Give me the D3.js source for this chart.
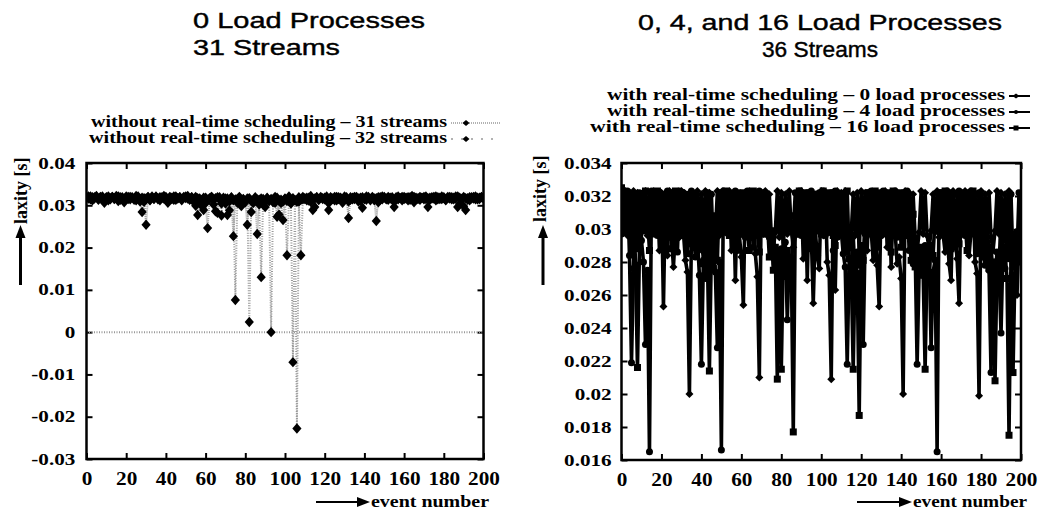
<!DOCTYPE html>
<html>
<head>
<meta charset="utf-8">
<script src="https://cdn.jsdelivr.net/npm/d3@7"></script>
<style>
  body { margin: 0; background: #fff; }
</style>
</head>
<body>
<svg id="chart"></svg>
<script>
// event numbers on the x axis
const events = d3.range(0, 201)

// laxity in ms, left panel (0 load processes)
const lax31 = [
  32.0,31.6,32.1,31.2,31.9,32.2,31.5,32.0,31.7,30.6,
  31.8,32.1,31.4,32.0,31.6,32.2,31.0,31.9,31.7,30.7,
  32.1,31.5,32.0,31.8,31.3,32.2,31.6,30.9,28.4,31.7,
  25.4,31.9,31.2,32.1,31.6,32.0,31.4,31.9,31.7,32.2,
  31.5,30.6,32.0,31.8,31.3,32.1,31.6,31.9,31.2,32.0,
  31.7,32.2,31.4,31.9,30.8,32.0,27.7,31.6,29.9,31.8,
  30.5,24.6,31.5,32.0,30.2,31.7,28.2,31.9,30.4,31.3,
  31.6,27.7,30.9,31.8,22.7,31.4,30.6,32.0,30.9,31.5,
  31.0,25.4,31.7,28.4,30.8,31.9,23.2,31.3,31.6,30.2,
  29.6,31.8,31.1,31.5,30.7,32.0,27.3,31.2,30.5,26.5,
  31.6,31.0,32.1,30.4,31.7,31.2,30.8,31.9,31.3,32.0,
  31.5,31.8,31.1,32.2,28.9,31.6,31.9,31.3,32.0,31.7,
  31.4,32.1,28.9,31.8,31.5,32.0,31.2,31.9,31.6,30.6,
  32.1,31.7,27.0,31.9,31.4,32.0,31.6,30.9,31.8,29.4,
  31.5,32.1,31.7,31.2,32.0,31.6,26.3,31.9,31.3,32.1,
  31.8,31.4,32.0,31.6,31.9,29.6,31.5,32.1,31.7,31.2,
  32.0,31.6,31.9,31.3,32.2,30.7,31.8,31.5,32.0,31.7,
  31.4,32.1,29.6,31.8,31.6,32.0,31.2,31.9,31.5,32.1,
  31.7,31.3,32.0,31.6,31.9,31.4,32.1,29.6,31.8,31.5,
  32.0,28.9,31.7,31.2,31.9,31.6,32.1,31.4,31.8,32.0,
  31.7
]
const lax32 = [
  31.8,32.1,31.4,31.9,31.6,32.0,31.3,31.8,32.1,31.5,
  31.9,31.2,31.7,32.0,31.5,31.8,32.1,31.3,31.9,31.6,
  31.7,32.0,31.4,31.9,31.6,31.2,32.1,31.5,31.8,30.8,
  31.6,32.0,31.3,31.8,31.5,32.1,31.7,31.2,31.9,31.6,
  32.0,31.4,31.8,31.5,32.1,31.3,31.7,31.9,31.4,31.8,
  32.1,31.6,31.3,31.9,31.5,29.9,31.7,30.6,31.2,28.9,
  31.8,31.3,31.7,32.0,31.5,28.6,31.9,31.4,27.6,31.8,
  30.4,31.6,28.8,31.9,31.2,7.6,31.5,31.8,29.8,31.4,
  30.7,31.6,2.4,31.1,30.5,31.7,31.4,30.2,13.0,31.5,
  30.8,31.6,31.0,0.0,31.4,30.6,31.8,27.8,31.3,30.9,
  31.5,18.2,31.0,30.6,-7.1,31.2,-22.8,30.9,18.2,31.4,
  31.7,31.2,31.8,30.8,31.5,29.6,31.9,31.3,31.7,31.5,
  31.8,31.3,30.5,31.9,31.6,31.2,32.0,31.5,31.8,31.4,
  31.7,31.9,30.9,31.3,31.8,31.5,32.0,31.6,31.2,31.9,
  31.6,31.3,32.0,31.5,31.8,31.2,31.7,30.7,31.9,31.4,
  32.0,31.6,31.3,31.8,31.5,30.8,31.9,31.4,31.7,32.0,
  31.5,31.8,31.2,31.9,31.6,32.0,31.4,31.7,31.3,31.8,
  32.0,31.5,31.7,31.3,31.9,31.6,32.1,31.4,31.8,31.5,
  31.9,31.2,31.7,32.0,31.4,31.8,31.6,32.1,30.3,31.5,
  29.8,31.7,31.3,31.9,31.6,32.0,31.4,31.8,31.5,31.9,
  31.6
]

// laxity in ms, right panel (36 streams)
const laxLoad0 = [
  32.2,29.8,32.3,29.6,32.1,29.9,32.3,29.7,32.2,29.5,
  32.1,29.9,32.3,29.6,32.2,29.8,32.3,29.7,32.0,28.7,
  32.2,25.3,32.1,28.4,32.3,29.6,27.7,29.9,32.2,29.5,
  32.3,29.8,28.1,27.4,20.0,29.6,32.2,29.9,32.3,29.7,
  32.1,28.6,32.3,29.5,32.2,29.8,28.9,29.7,32.3,29.6,
  32.2,29.9,32.1,29.7,32.3,28.7,32.2,26.9,32.0,29.6,
  28.3,25.4,32.2,29.8,32.3,29.5,32.1,28.5,27.1,21.0,
  32.2,29.7,32.3,29.9,32.1,29.6,28.8,29.8,32.3,29.5,
  32.2,28.6,32.1,29.7,32.3,29.9,28.9,29.6,32.2,29.8,
  32.3,28.2,32.1,26.9,32.2,29.7,25.5,29.9,28.4,27.6,
  32.3,29.6,32.2,28.0,27.2,20.9,32.1,26.3,32.3,29.8,
  32.2,29.5,32.3,29.9,28.8,29.7,32.1,29.6,32.2,28.5,
  32.3,29.8,32.2,28.7,32.1,29.9,28.1,29.6,27.8,25.3,
  32.2,29.7,32.3,28.9,32.1,27.7,32.2,29.8,27.9,28.3,
  27.0,20.0,32.3,29.6,32.2,29.9,32.1,29.5,28.7,29.8,
  32.3,29.7,32.2,29.6,28.8,29.9,32.1,29.8,32.3,29.5,
  32.2,29.7,28.6,29.9,27.9,26.9,32.3,29.6,28.2,25.5,
  32.1,29.8,32.3,29.7,28.4,29.9,32.2,28.0,27.3,19.9,
  32.3,29.6,32.1,29.8,32.2,29.5,28.7,29.9,32.3,29.7,
  32.2,28.9,32.1,29.6,32.3,29.8,28.3,29.7,26.0,29.6,
  32.2
]
const laxLoad4 = [
  29.7,32.2,29.9,32.3,28.4,21.9,27.6,32.1,28.8,32.2,
  29.3,28.0,23.0,27.5,16.5,32.3,29.8,32.1,29.6,32.2,
  29.9,28.9,29.7,32.3,29.5,32.1,29.8,32.2,28.6,32.3,
  29.6,32.2,29.9,32.1,29.1,32.3,29.7,28.3,29.5,27.2,
  21.8,28.1,27.0,32.2,27.8,32.1,28.5,27.4,22.8,28.0,
  16.6,32.3,29.8,32.2,29.6,32.1,29.9,32.3,28.7,32.2,
  29.7,32.1,29.5,32.3,29.8,32.2,28.9,32.1,29.6,32.3,
  29.9,32.2,29.7,32.1,29.5,28.4,29.8,27.9,28.6,27.3,
  28.8,27.1,29.2,24.5,28.3,27.6,29.9,32.2,29.7,32.3,
  29.6,32.1,29.8,32.2,28.8,32.3,29.5,32.1,29.9,32.2,
  29.7,32.3,29.6,32.1,29.8,32.2,28.7,32.3,29.5,32.1,
  29.9,28.5,27.7,21.8,28.2,27.4,29.6,27.0,28.6,27.8,
  28.4,23.0,29.7,32.2,29.8,32.3,29.5,32.1,29.9,32.2,
  29.6,32.3,29.7,32.1,28.9,32.2,29.8,32.3,29.5,32.1,
  29.9,32.2,29.6,32.3,28.7,29.8,27.9,28.8,21.8,27.5,
  28.3,27.2,29.0,27.7,28.6,22.8,27.4,28.1,16.5,32.2,
  29.8,32.1,29.6,32.3,29.9,32.2,29.7,28.9,29.5,32.3,
  29.8,32.1,29.6,32.2,29.9,32.3,29.7,32.1,28.5,32.2,
  29.6,28.7,27.8,29.2,27.5,21.3,28.0,27.1,28.6,27.4,
  23.7,28.9,27.6,29.4,28.2,32.1,27.9,29.6,28.4,32.2,
  29.8
]
const laxLoad16 = [
  32.5,30.8,29.8,32.2,30.9,28.5,32.1,27.8,21.6,28.9,
  30.7,29.9,32.3,30.8,28.7,32.2,30.6,29.7,32.3,30.9,
  29.8,32.1,30.7,29.9,32.2,28.8,29.7,32.3,30.8,29.6,
  32.2,30.9,29.8,28.5,30.7,29.9,32.1,30.8,29.7,28.8,
  30.6,27.9,29.8,28.4,21.4,28.9,27.6,30.8,28.1,32.2,
  30.7,29.9,32.3,30.8,29.6,32.1,30.9,29.8,28.8,30.6,
  29.7,32.2,30.8,29.9,28.7,30.7,32.3,30.9,29.8,28.6,
  30.8,29.7,32.1,30.6,28.3,29.9,27.5,28.9,20.9,28.1,
  21.5,28.5,27.4,28.7,27.0,28.2,17.7,30.8,29.7,32.3,
  30.9,29.8,32.2,30.7,29.6,28.9,30.8,29.9,32.1,30.6,
  29.7,32.3,30.8,29.8,32.2,30.9,29.6,29.0,30.7,29.9,
  32.1,30.8,28.6,32.3,28.2,27.6,21.5,28.4,27.3,18.7,
  29.0,28.1,30.8,29.7,32.2,30.9,29.8,32.3,28.9,29.6,
  32.1,30.7,29.9,32.2,30.8,28.6,32.3,30.6,29.7,32.2,
  28.9,29.8,32.1,30.7,29.6,28.1,30.9,27.7,28.6,27.2,
  28.9,27.5,21.5,28.3,27.1,29.0,28.4,30.8,29.9,32.2,
  30.7,29.8,32.3,30.9,29.6,28.8,30.8,29.7,32.1,29.1,
  29.9,32.2,30.6,28.7,30.8,29.8,32.3,30.7,29.3,32.1,
  28.6,29.9,28.3,30.8,27.6,28.9,27.2,20.8,28.0,27.5,
  30.9,27.8,28.5,27.0,17.5,28.4,21.3,27.7,29.8,28.0,
  30.8
]

const xTicks = [0, 20, 40, 60, 80, 100, 120, 140, 160, 180, 200]
const yTicksLeft = [-0.03, -0.02, -0.01, 0, 0.01, 0.02, 0.03, 0.04]
const yLabelsLeft = ['-0.03', '-0.02', '-0.01', '0', '0.01', '0.02', '0.03', '0.04']
const yTicksRight = [0.016, 0.018, 0.02, 0.022, 0.024, 0.026, 0.028, 0.03, 0.032, 0.034]
const yLabelsRight = ['0.016', '0.018', '0.02', '0.022', '0.024', '0.026', '0.028', '0.03', '0.032', '0.034']

const titlesLeft = ['0 Load Processes', '31 Streams']
const titlesRight = ['0, 4, and 16 Load Processes', '36 Streams']
const legendLeft = ['without real-time scheduling \u2013 31 streams', 'without real-time scheduling \u2013 32 streams']
const legendRight = ['with real-time scheduling \u2013 0 load processes', 'with real-time scheduling \u2013 4 load processes', 'with real-time scheduling \u2013 16 load processes']

const SERIF = "'Liberation Serif', 'Times New Roman', serif"
const SANS = "'Liberation Sans', Arial, sans-serif"

const svg = d3.select('#chart').attr('width', 1039).attr('height', 514)

const diamond = (rx, ry) => `M0,${-ry}L${rx},0L0,${ry}L${-rx},0Z`
const circle = r => `M${-r},0A${r},${r} 0 1,0 ${r},0A${r},${r} 0 1,0 ${-r},0Z`
const square = s => `M${-s},${-s}H${s}V${s}H${-s}Z`

const drawPanel = (p) => {
    const x = d3.scaleLinear().domain([0, 200]).range([p.x0, p.x1])
    const y = d3.scaleLinear().domain(p.yDomain).range([p.y1, p.y0])
    const g = svg.append('g')

    const styleAxis = (a) => {
        a.select('.domain').remove()
        a.selectAll('.tick line').attr('stroke', '#000').attr('stroke-width', 2)
        a.selectAll('text')
            .attr('font-family', SERIF)
            .attr('font-weight', 'bold')
            .attr('fill', '#000')
    }

    g.append('g').attr('transform', `translate(0,${p.y1})`)
        .call(d3.axisBottom(x).tickValues(xTicks).tickSize(-6).tickPadding(p.xPad))
        .call(styleAxis)
        .call(a => a.selectAll('text').attr('font-size', 18).attr('transform', 'scale(1.18,1)'))
    g.append('g').attr('transform', `translate(0,${p.y0})`)
        .call(d3.axisTop(x).tickValues(xTicks).tickSize(-6).tickFormat(''))
        .call(styleAxis)
    g.append('g').attr('transform', `translate(${p.x0},0)`)
        .call(d3.axisLeft(y).tickValues(p.yTicks).tickSize(-6).tickPadding(p.yPad)
            .tickFormat((d, i) => p.yLabels[i]))
        .call(styleAxis)
        .call(a => a.selectAll('text').attr('font-size', 16).attr('transform', 'scale(1.32,1)'))
    g.append('g').attr('transform', `translate(${p.x1},0)`)
        .call(d3.axisRight(y).tickValues(p.yTicks).tickSize(-6).tickFormat(''))
        .call(styleAxis)

    const clipId = `clip${p.id}`
    g.append('clipPath').attr('id', clipId).append('rect')
        .attr('x', p.x0).attr('y', p.y0).attr('width', p.x1 - p.x0).attr('height', p.y1 - p.y0)
    const plot = g.append('g').attr('clip-path', `url(#${clipId})`)

    if (p.zeroLine) {
        plot.append('line')
            .attr('x1', x(0)).attr('x2', x(200)).attr('y1', y(0)).attr('y2', y(0))
            .attr('stroke', '#999').attr('stroke-width', 2).attr('stroke-dasharray', '1,1.5')
    }

    const line = d3.line().x((d, i) => x(events[i])).y(d => y(d / 1000))
    p.series.forEach(s => {
        plot.append('path').datum(s.values)
            .attr('d', line)
            .attr('fill', 'none')
            .attr('stroke', s.color)
            .attr('stroke-width', s.width)
            .attr('stroke-linejoin', 'round')
            .attr('stroke-dasharray', s.dash)
    })
    p.series.forEach(s => {
        plot.selectAll(null).data(s.values).enter()
            .append('path')
            .attr('transform', (d, i) => `translate(${x(events[i])},${y(d / 1000)})`)
            .attr('d', s.shape)
            .attr('fill', '#000')
    })

    g.append('rect')
        .attr('x', p.x0).attr('y', p.y0).attr('width', p.x1 - p.x0).attr('height', p.y1 - p.y0)
        .attr('fill', 'none').attr('stroke', '#000').attr('stroke-width', 2.5)

    // titles
    p.titles.forEach((t, i) => {
        svg.append('text')
            .attr('x', p.titleX).attr('y', p.titleY[i])
            .attr('text-anchor', p.titleAnchor)
            .attr('font-family', SANS).attr('font-size', 22)
            .attr('stroke', '#000').attr('stroke-width', 0.4)
            .attr('textLength', p.titleLen[i]).attr('lengthAdjust', 'spacingAndGlyphs')
            .text(t)
    })

    // legend
    p.legend.forEach((t, i) => {
        const ly = p.legendY[i]
        svg.append('text')
            .attr('x', p.legendX).attr('y', ly)
            .attr('text-anchor', 'end')
            .attr('font-family', SERIF).attr('font-size', 16).attr('font-weight', 'bold')
            .attr('textLength', p.legendLen[i]).attr('lengthAdjust', 'spacingAndGlyphs')
            .text(t)
        const s = p.series[i]
        svg.append('line')
            .attr('x1', p.sampleX[0]).attr('x2', p.sampleX[1]).attr('y1', ly - 4).attr('y2', ly - 4)
            .attr('stroke', s.color).attr('stroke-width', s.legendWidth || s.width).attr('stroke-dasharray', s.legendDash || s.dash)
        svg.append('path')
            .attr('transform', `translate(${p.sampleX[2]},${ly - 4})`)
            .attr('d', s.legendShape).attr('fill', '#000')
    })

    // y label with arrow
    svg.append('text')
        .attr('transform', `translate(${p.yLabelX},${p.yLabelBottom}) rotate(-90)`)
        .attr('font-family', SERIF).attr('font-size', 18).attr('font-weight', 'bold')
        .text('laxity [s]')
    svg.append('line')
        .attr('x1', p.yArrowX).attr('x2', p.yArrowX).attr('y1', 285).attr('y2', 236)
        .attr('stroke', '#000').attr('stroke-width', 3)
    svg.append('path')
        .attr('d', `M${p.yArrowX},225L${p.yArrowX + 5},238L${p.yArrowX - 5},238Z`).attr('fill', '#000')

    // x label with arrow
    svg.append('line')
        .attr('x1', p.xArrow[0]).attr('x2', p.xArrow[1] - 10).attr('y1', 502).attr('y2', 502)
        .attr('stroke', '#000').attr('stroke-width', 2)
    svg.append('path')
        .attr('d', `M${p.xArrow[1]},502L${p.xArrow[1] - 13},497L${p.xArrow[1] - 13},507Z`).attr('fill', '#000')
    svg.append('text')
        .attr('x', p.xArrow[1] + 1).attr('y', 507)
        .attr('font-family', SERIF).attr('font-size', 17).attr('font-weight', 'bold')
        .attr('textLength', p.xLabelLen).attr('lengthAdjust', 'spacingAndGlyphs')
        .text('event number')
}

drawPanel({
    id: 'L', x0: 86.5, x1: 483.5, y0: 163, y1: 459,
    yDomain: [-0.03, 0.04], yTicks: yTicksLeft, yLabels: yLabelsLeft,
    xPad: 13, yPad: 8.5, zeroLine: true,
    series: [
        { values: lax31, color: '#999', width: 2, dash: '1,1', shape: diamond(4.6, 5.2), legendShape: diamond(3.5, 3), legendWidth: 1.5 },
        { values: lax32, color: '#999', width: 2, dash: '1,1.5', shape: diamond(4.6, 5.2), legendShape: diamond(3.5, 3), legendDash: '2,8', legendWidth: 1.5 }
    ],
    titles: titlesLeft, titleX: 193, titleY: [28, 55], titleAnchor: 'start', titleLen: [232, 147],
    legend: legendLeft, legendX: 447, legendY: [127, 143], legendLen: [356, 358], sampleX: [451, 500, 466],
    yLabelX: 27, yLabelBottom: 224, yArrowX: 20.5,
    xArrow: [316, 370], xLabelLen: 118
})

drawPanel({
    id: 'R', x0: 621.5, x1: 1021, y0: 163, y1: 460,
    yDomain: [0.016, 0.034], yTicks: yTicksRight, yLabels: yLabelsRight,
    xPad: 13, yPad: 7.5, zeroLine: false,
    series: [
        { values: laxLoad0, color: '#000', width: 3.6, dash: null, shape: diamond(4, 4), legendShape: diamond(3.5, 2.5), legendWidth: 2 },
        { values: laxLoad4, color: '#000', width: 3.6, dash: null, shape: circle(3.5), legendShape: circle(2), legendWidth: 2 },
        { values: laxLoad16, color: '#000', width: 3.6, dash: null, shape: square(3.5), legendShape: square(2.5), legendWidth: 2 }
    ],
    titles: titlesRight, titleX: 820, titleY: [30, 57], titleAnchor: 'middle', titleLen: [364, 116],
    legend: legendRight, legendX: 1005, legendY: [100, 116, 132], legendLen: [398, 398, 415], sampleX: [1009, 1030, 1016],
    yLabelX: 546, yLabelBottom: 222, yArrowX: 543,
    xArrow: [857, 912], xLabelLen: 114
})
</script>
</body>
</html>
